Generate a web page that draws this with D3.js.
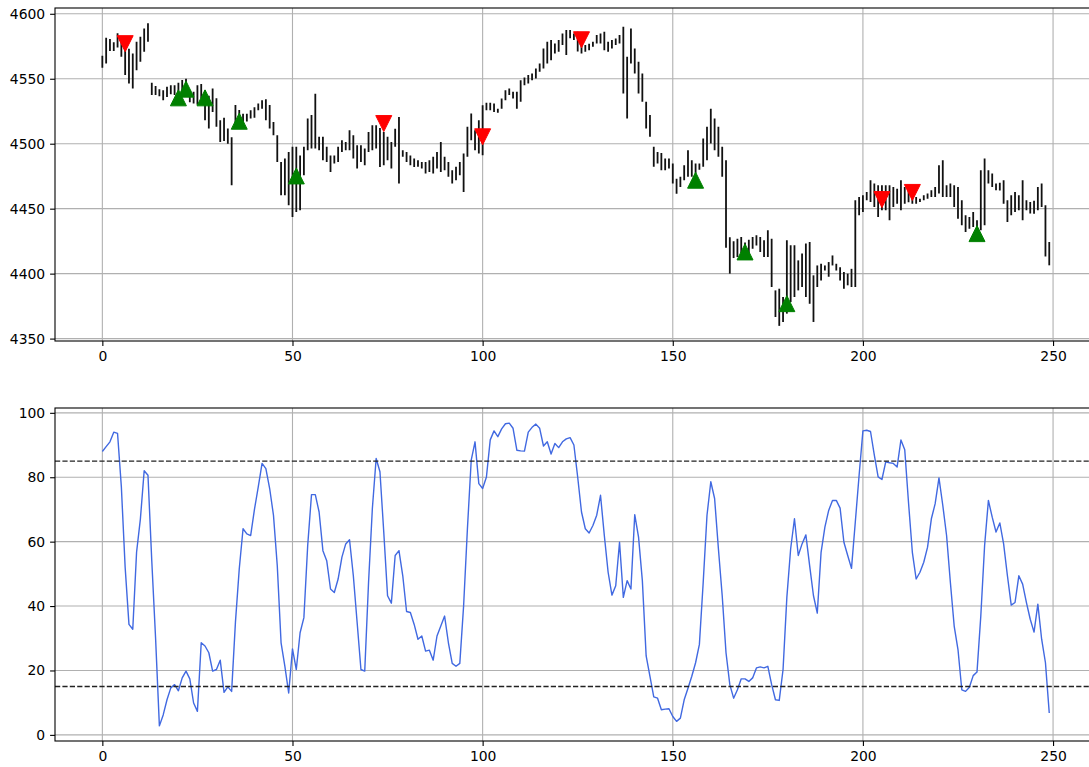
<!DOCTYPE html>
<html>
<head>
<meta charset="utf-8">
<script src="https://cdn.jsdelivr.net/npm/d3@7"></script>
<style>
  body { margin: 0; background: #ffffff; }
  svg { display: block; }
  text { font-family: "DejaVu Sans", sans-serif; }
</style>
</head>
<body>
<svg id="chart" width="1089" height="767"></svg>
<script>
// Daily high / low of each bar (index 0..249)
const barHigh = [
  4567.7,4581.5,4580.5,4578,4585,4582,4576,4573,4569.5,4578.5,
  4582.3,4588.7,4592.8,4547,4544.5,4542,4541.2,4543.8,4545,4545,
  4547,4549,4550,4541,4540,4545,4546,4541,4537,4542.5,
  4535,4518,4520,4511.7,4505,4529.7,4526,4523,4523,4525.8,
  4528,4531,4533.5,4534.3,4529.7,4516.8,4506.5,4486,4488.6,4493.7,
  4497.6,4497.6,4491,4497.6,4519.4,4522,4538.5,4505.3,4505.3,4497.6,
  4491,4491,4497.6,4502.7,4501.4,4510.3,4506.5,4498.8,4498.8,4496.3,
  4509,4514.2,4514.2,4512,4509,4505.3,4501.4,4511.6,4520.6,4495,
  4493.7,4491,4488.6,4487.3,4486,4486,4487.3,4489.9,4493.7,4501.4,
  4489.9,4486,4479.6,4482.2,4486,4492.4,4513,4523.3,4510.4,4518.1,
  4529.6,4531.5,4531.5,4531,4527,4534.8,4541.2,4542.5,4540,4540,
  4548.9,4551,4552.8,4554,4557.9,4561.8,4573.3,4578.5,4579.8,4577.2,
  4579.8,4584.9,4587.5,4587.5,4584.9,4586.2,4580,4575.9,4577,4578.5,
  4583.6,4584.9,4586.2,4578.5,4579.8,4581,4583.6,4590,4566.9,4588.7,
  4573.3,4563,4554,4532.2,4522,4497.6,4493.7,4492.9,4488.6,4488.6,
  4484.7,4473.1,4474.5,4483.4,4495,4487.3,4484.7,4484.7,4504,4513,
  4527,4519.4,4513,4497.6,4487.3,4428,4425,4426.9,4428.2,4424,
  4426,4428.2,4429.5,4428.2,4425.6,4433.4,4426.9,4387.1,4388.4,4382,
  4425.6,4421.8,4421.8,4410.2,4415.4,4423.1,4424.4,4398.7,4406.3,4407.6,
  4406.3,4408.9,4414,4407.6,4405,4401.2,4400,4403.7,4456.4,4459,
  4460.3,4462.8,4471.8,4469.3,4468,4468,4468,4468,4466.7,4465.4,
  4471.8,4466.7,4465,4461.6,4459,4457.7,4460.3,4461.6,4464.1,4466.7,
  4483.4,4487.3,4468,4469.3,4468,4466.7,4456.4,4444.9,4443.6,4447.5,
  4441,4479.6,4488.6,4479.6,4477,4469.3,4470,4471.8,4456.4,4460.3,
  4462.8,4460.3,4471.8,4456.4,4455.1,4456,4466.7,4469.3,4452.6,4424.4
];
const barLow = [
  4558.4,4561.8,4571.3,4571.3,4574,4567,4552.8,4546.3,4542.5,4556.6,
  4563,4570.8,4578.5,4537.4,4537.4,4536.6,4533.5,4536,4538,4537.4,
  4535,4538.6,4540,4532,4531,4530,4535,4518,4511.7,4524.5,
  4513,4501.4,4502,4500,4468,4514,4514,4511.7,4517,4519.4,
  4520,4525.8,4527,4518,4511.7,4506.5,4486,4460.3,4460.3,4452.6,
  4443.6,4447.5,4448.8,4475.7,4495,4496.3,4496.3,4495,4487.3,4486,
  4478.3,4484.7,4486,4493.7,4495,4495,4488.6,4480.9,4486,4483.4,
  4493.7,4495,4496.3,4482,4483.4,4487.3,4480.9,4497.6,4469.3,4489.9,
  4486,4483.4,4482.1,4482.2,4480.9,4477,4478.3,4477,4480.9,4478.3,
  4479.6,4474.5,4469.3,4471.9,4475.7,4462.9,4489.9,4502.7,4495,4492.4,
  4491.1,4525.8,4525.8,4524.5,4523.8,4527,4533.5,4537.4,4534.8,4527,
  4532.2,4545,4546.3,4548.9,4550.2,4555.3,4557.9,4561.8,4564.3,4569.5,
  4570.8,4575.9,4568.2,4581.1,4579.8,4571,4569.5,4570.8,4572,4574.6,
  4577.2,4577.2,4572,4570.8,4573.3,4575.9,4577.2,4538.6,4519.4,4561.8,
  4554,4538.6,4532.2,4511.7,4505.3,4482.2,4484.7,4479.6,4479.6,4481,
  4469.3,4461.5,4466.7,4471.9,4474.5,4474.5,4477,4480,4482.2,4487.3,
  4500.1,4495,4489.9,4474.5,4420,4400,4412,4412.8,4415.4,4412,
  4414,4419.2,4421.7,4416.7,4412.8,4412.8,4389.7,4366.6,4359.8,4362.8,
  4369.2,4378.1,4382,4387.1,4389.7,4382,4376.8,4362.8,4389.7,4394.8,
  4402.4,4397.6,4406.3,4402.4,4394.8,4388.4,4391,4389.7,4389.7,4444.9,
  4447.5,4456.4,4455.1,4451.3,4443.6,4448.8,4448.8,4441,4451.3,4453.8,
  4448.8,4453.8,4455,4453.8,4453.8,4455.1,4456.4,4457.7,4459,4459,
  4461.6,4459,4459,4459,4451.3,4442.3,4437.2,4432.1,4434.6,4435.9,
  4430.8,4433.4,4437.2,4469.3,4466.7,4464.1,4464,4453.8,4439.7,4445,
  4447.5,4448.8,4441,4448.8,4446.2,4446,4448.8,4451.3,4413.2,4406.4
];
// Oscillator reading (0..100) for each bar
const oscillator = [
  88,89.5,91,94,93.6,77,52,34.3,32.8,56.7,
  67,82,80.6,54,30,2.8,6.2,10.9,14.6,15.6,
  13.7,17.7,19.8,17.4,9.9,7.3,28.6,27.6,25.5,19.8,
  20.3,23.2,13.2,14.9,13.5,35,51.5,64,62.4,61.9,
  70,77,84.3,82.7,76.5,68.2,52.5,28.6,21.3,13,
  26.7,20.3,31.7,36.4,58.8,74.6,74.6,69.2,57.2,54.1,
  45.3,44.2,48.4,55.2,59.3,60.6,49.4,34.9,20.3,19.8,
  47.3,70.2,85.8,81.7,63,43.2,40.9,55.7,57.2,49.4,
  38.3,38,34.3,29.7,30.7,26,26.3,23.2,30.7,33.8,
  36.9,28.6,22.2,21.3,22.2,40.1,64,85.3,91,78,
  76.5,80.1,91.6,94.4,92.6,95,96.6,96.8,95.2,88.4,
  88.2,88.1,94,95.5,96.5,95.2,89.7,91,87.2,90.5,
  89.2,91,91.9,92.3,90,80,69.2,64,62.7,65,
  68.2,74.4,61.9,50.5,43.4,46.3,59.8,42.7,47.9,45.3,
  68.4,61.4,47.9,24.5,18.2,11.8,11.4,7.8,8,8.1,
  5.7,4.2,5.2,10.9,14.5,18.2,22.4,28.1,47.3,68.2,
  78.6,73.4,57.8,43.2,25.5,15.6,11.4,14,17.4,17.4,
  16.6,17.7,20.8,21.1,20.8,21.3,15.6,10.9,10.7,20.3,
  42.7,57.8,67.1,55.7,59.3,62.1,52.5,43.2,37.8,56.7,
  64.5,69.7,72.8,72.8,70.4,59.8,55.7,51.7,66.1,80.6,
  94.4,94.6,94.2,86.9,80.1,79.3,84.8,84.5,84.3,83.2,
  91.6,88.5,72,56.7,48.4,50.5,53.6,58.3,67.1,71.8,
  79.8,71.3,61.9,47.3,33.8,26.5,14,13.5,14.8,18.4,
  19.5,36.9,58.8,72.8,67.6,63,65.8,59.3,49.4,40.3,
  41.1,49.4,46.8,41.1,35.9,31.9,40.6,29.7,22.4,6.8
];
// Signal markers
const sellIdx = [6, 74, 100, 126, 205, 213];
const sellPrice = [4577, 4515.5, 4505.3, 4580, 4457, 4462.5];
const buyIdx = [20, 22, 27, 36, 51, 156, 169, 180, 230];
const buyPrice = [4535.3, 4542, 4535.3, 4517.3, 4475.2, 4471.9, 4416.7, 4376.9, 4430.8];
// Axis ticks and reference levels
const xTicks = [0, 50, 100, 150, 200, 250];
const priceTicks = [4350, 4400, 4450, 4500, 4550, 4600];
const oscTicks = [0, 20, 40, 60, 80, 100];
const levels = [85, 15];

const svg = d3.select("#chart");
svg.append("rect").attr("width", 1089).attr("height", 767).attr("fill", "#ffffff");

const n = oscillator.length;
const idx = d3.range(n);
const left = 55, right = 1096.6;
const panels = [
  { top: 8, bottom: 341 },
  { top: 408, bottom: 741 }
];

function padded(lo, hi) {
  const p = (hi - lo) * 0.05;
  return [lo - p, hi + p];
}

const x = d3.scaleLinear().domain(padded(0, n - 1)).range([left, right]);
const yP = d3.scaleLinear()
  .domain(padded(d3.min(barLow), d3.max(barHigh)))
  .range([panels[0].bottom, panels[0].top]);
const yO = d3.scaleLinear()
  .domain(padded(d3.min(oscillator), d3.max(oscillator)))
  .range([panels[1].bottom, panels[1].top]);

const gridColor = "#b0b0b0";
const fontSize = 13.9;
const tick = 4.9;
const plain = d3.format("d");

function drawFrame(p, y, yTicks, id) {
  const g = svg.append("g");
  svg.append("clipPath").attr("id", id)
    .append("rect").attr("x", left).attr("y", p.top)
    .attr("width", right - left).attr("height", p.bottom - p.top);

  // grid
  g.selectAll(".gx").data(xTicks).enter().append("line")
    .attr("x1", d => x(d)).attr("x2", d => x(d))
    .attr("y1", p.top).attr("y2", p.bottom)
    .attr("stroke", gridColor).attr("stroke-width", 1.1);
  g.selectAll(".gy").data(yTicks).enter().append("line")
    .attr("x1", left).attr("x2", right)
    .attr("y1", d => y(d)).attr("y2", d => y(d))
    .attr("stroke", gridColor).attr("stroke-width", 1.1);

  // axes
  const ax = svg.append("g").attr("transform", `translate(0,${p.bottom})`)
    .call(d3.axisBottom(x).tickValues(xTicks).tickFormat(plain)
      .tickSize(tick).tickPadding(4.9).tickSizeOuter(0));
  const ay = svg.append("g").attr("transform", `translate(${left},0)`)
    .call(d3.axisLeft(y).tickValues(yTicks).tickFormat(plain)
      .tickSize(tick).tickPadding(4.9).tickSizeOuter(0));
  [ax, ay].forEach(a => {
    a.select(".domain").remove();
    a.selectAll("line").attr("stroke", "#000").attr("stroke-width", 1.1);
    a.selectAll("text").attr("fill", "#000").style("font-size", fontSize + "px")
      .style("font-family", "'DejaVu Sans', sans-serif");
  });
  return g;
}

function drawBorder(p) {
  svg.append("rect").attr("x", left).attr("y", p.top)
    .attr("width", right - left).attr("height", p.bottom - p.top)
    .attr("fill", "none").attr("stroke", "#000").attr("stroke-width", 1.1);
}

// ---- price panel ----
drawFrame(panels[0], yP, priceTicks, "clipPrice");
const pg = svg.append("g").attr("clip-path", "url(#clipPrice)");
pg.selectAll(".bar").data(idx).enter().append("line")
  .attr("x1", i => x(i)).attr("x2", i => x(i))
  .attr("y1", i => yP(barLow[i])).attr("y2", i => yP(barHigh[i]))
  .attr("stroke", "#111").attr("stroke-width", 1.8);

const h = 8;
pg.selectAll(".sell").data(sellIdx).enter().append("path")
  .attr("transform", (d, k) => `translate(${x(d)},${yP(sellPrice[k])})`)
  .attr("d", `M0,${h}L${-h},${-h}L${h},${-h}Z`)
  .attr("fill", "#ff0000").attr("stroke", "#ff0000").attr("stroke-width", 1);
pg.selectAll(".buy").data(buyIdx).enter().append("path")
  .attr("transform", (d, k) => `translate(${x(d)},${yP(buyPrice[k])})`)
  .attr("d", `M0,${-h}L${-h},${h}L${h},${h}Z`)
  .attr("fill", "#008000").attr("stroke", "#008000").attr("stroke-width", 1);
drawBorder(panels[0]);

// ---- oscillator panel ----
drawFrame(panels[1], yO, oscTicks, "clipOsc");
const og = svg.append("g").attr("clip-path", "url(#clipOsc)");
og.append("path").datum(idx)
  .attr("d", d3.line().x(i => x(i)).y(i => yO(oscillator[i])))
  .attr("fill", "none").attr("stroke", "#4169e1").attr("stroke-width", 1.4)
  .attr("stroke-linejoin", "round");
og.selectAll(".lvl").data(levels).enter().append("line")
  .attr("x1", left).attr("x2", right)
  .attr("y1", d => yO(d)).attr("y2", d => yO(d))
  .attr("stroke", "#222").attr("stroke-width", 1.4)
  .attr("stroke-dasharray", "5.2,2.2");
drawBorder(panels[1]);
</script>
</body>
</html>
